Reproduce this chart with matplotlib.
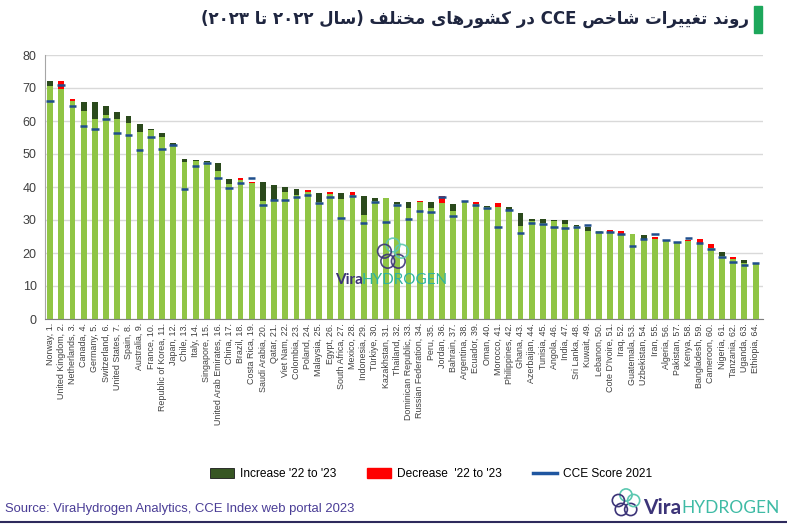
import matplotlib
matplotlib.use("Agg")
import matplotlib.pyplot as plt
from matplotlib import font_manager
from matplotlib.patches import Patch, Circle, Rectangle
from matplotlib.lines import Line2D
import numpy as np

countries = ["Norway", "United Kingdom", "Netherlands", "Canada", "Germany", "Switzerland",
             "United States", "Spain", "Australia", "France", "Republic of Korea", "Japan",
             "Chile", "Italy", "Singapore", "United Arab Emirates", "China", "Brazil",
             "Costa Rica", "Saudi Arabia", "Qatar", "Viet Nam", "Colombia", "Poland",
             "Malaysia", "Egypt", "South Africa", "Mexico", "Indonesia", "Türkiye",
             "Kazakhstan", "Thailand", "Dominican Republic", "Russian Federation", "Peru",
             "Jordan", "Bahrain", "Argentina", "Ecuador", "Oman", "Morocco", "Philippines",
             "Ghana", "Azerbaijan", "Tunisia", "Angola", "India", "Sri Lanka", "Kuwait",
             "Lebanon", "Cote D'Ivoire", "Iraq", "Guatemala", "Uzbekistan", "Iran",
             "Algeria", "Pakistan", "Kenya", "Bangladesh", "Cameroon", "Nigeria",
             "Tanzania", "Uganda", "Ethiopia"]

score_2021 = [66.2, 70.8, 64.6, 58.6, 57.7, 60.6, 56.4, 55.9, 51.1, 55.2, 51.4, 52.7,
              39.5, 46.5, 47.4, 42.6, 39.7, 41.2, 42.6, 34.4, 36.0, 36.2, 37.1, 37.6,
              35.2, 37.0, 30.6, 37.2, 29.1, 35.4, 29.5, 34.6, 30.4, 32.8, 32.4, 37.0,
              31.2, 35.7, 34.4, 33.6, 27.8, 32.9, 26.2, 29.2, 28.8, 27.8, 27.5, 27.9,
              28.6, 26.3, 26.4, 25.7, 22.0, 24.1, 25.9, 23.9, 23.4, 24.6, 23.0, 21.2,
              18.7, 17.4, 16.4, 16.9]

score_2022 = [70.5, 72.0, 66.7, 63.0, 60.7, 61.9, 60.5, 59.4, 56.7, 57.2, 55.2, 52.8,
              47.7, 47.9, 47.5, 44.7, 41.0, 42.7, 41.6, 35.8, 35.9, 38.4, 37.5, 39.2,
              35.4, 38.6, 36.5, 38.6, 31.6, 35.8, 36.7, 34.8, 33.6, 35.9, 33.7, 37.3,
              32.6, 35.9, 35.4, 34.0, 35.2, 33.1, 28.1, 29.6, 29.2, 29.6, 28.9, 28.2,
              26.6, 26.6, 26.9, 26.6, 25.9, 24.3, 25.0, 23.9, 23.4, 23.9, 24.1, 22.8,
              19.0, 18.9, 17.0, 17.0]

score_2023 = [72.0, 69.7, 66.0, 65.8, 65.8, 64.5, 62.8, 61.4, 59.1, 57.6, 56.5, 53.4,
              48.6, 48.2, 47.8, 47.4, 42.4, 42.0, 41.2, 41.4, 40.5, 40.1, 39.4, 38.6,
              38.3, 38.0, 38.1, 37.7, 37.4, 36.7, 36.7, 35.6, 35.4, 35.5, 35.4, 35.1,
              34.9, 35.5, 34.7, 34.2, 33.9, 33.9, 32.0, 30.3, 30.2, 29.9, 29.9, 28.4,
              27.8, 26.8, 26.4, 25.9, 25.9, 25.6, 24.2, 23.9, 23.4, 23.6, 23.0, 21.4,
              20.3, 18.1, 18.0, 17.0]

ranks = list(range(1, len(countries) + 1))
tick_labels = [f"{c}, {r}." for c, r in zip(countries, ranks)]

avail = {f.name for f in font_manager.fontManager.ttflist}
narrow = "Liberation Sans Narrow" if "Liberation Sans Narrow" in avail else "Liberation Sans"

LIGHT = "#90c545"
DARK = "#2b4a1c"
RED = "#ff0000"
BLUE = "#1f4e8c"

s21 = np.array(score_2021)
s22 = np.array(score_2022)
s23 = np.array(score_2023)
base = np.minimum(s22, s23)
inc = np.clip(s23 - s22, 0, None)
dec = np.clip(s22 - s23, 0, None)
x = np.arange(len(countries))

fig = plt.figure(figsize=(7.87, 5.24), dpi=100)
fig.patch.set_facecolor("white")
ax = fig.add_axes([45 / 787, 1 - 319 / 524, (763 - 45) / 787, (319 - 55) / 524])

bw = 0.52
ax.bar(x, base, width=bw, color=LIGHT, zorder=2)
ax.bar(x, inc, bottom=base, width=bw, color=DARK, zorder=3)
ax.bar(x, dec, bottom=base, width=bw, color=RED, zorder=3)
ax.hlines(s21, x - 0.34, x + 0.34, color=BLUE, lw=1.8, zorder=4)

ax.set_ylim(0, 80)
ax.set_xlim(-0.45, len(countries) - 1 + 0.66)
ax.set_yticks(range(0, 81, 10))
ax.yaxis.grid(True, color="#d9d9d9", lw=1)
ax.set_axisbelow(True)
for s in ["top", "right"]:
    ax.spines[s].set_visible(False)
ax.spines["left"].set_color("#a6a6a6")
ax.spines["bottom"].set_color("#7f7f7f")
ax.tick_params(axis="y", length=0, labelsize=9, labelcolor="#404040", pad=6)
ax.tick_params(axis="x", length=0, pad=3)
ax.set_xticks(x)
lab_size = 7.4 if narrow != "Liberation Sans" else 6.4
ax.set_xticklabels(tick_labels, rotation=90, fontsize=lab_size, color="#404040", family=narrow)
for lab in ax.get_yticklabels():
    lab.set_family("Liberation Sans")

# ---- Persian title (shaped manually) ----
FORMS = {
    '\u0627': ('\uFE8D', '\uFE8E', None, None),
    '\u062A': ('\uFE95', '\uFE96', '\uFE97', '\uFE98'),
    '\u062E': ('\uFEA5', '\uFEA6', '\uFEA7', '\uFEA8'),
    '\u062F': ('\uFEA9', '\uFEAA', None, None),
    '\u0631': ('\uFEAD', '\uFEAE', None, None),
    '\u0633': ('\uFEB1', '\uFEB2', '\uFEB3', '\uFEB4'),
    '\u0634': ('\uFEB5', '\uFEB6', '\uFEB7', '\uFEB8'),
    '\u0635': ('\uFEB9', '\uFEBA', '\uFEBB', '\uFEBC'),
    '\u063A': ('\uFECD', '\uFECE', '\uFECF', '\uFED0'),
    '\u0641': ('\uFED1', '\uFED2', '\uFED3', '\uFED4'),
    '\u0644': ('\uFEDD', '\uFEDE', '\uFEDF', '\uFEE0'),
    '\u0645': ('\uFEE1', '\uFEE2', '\uFEE3', '\uFEE4'),
    '\u0646': ('\uFEE5', '\uFEE6', '\uFEE7', '\uFEE8'),
    '\u0647': ('\uFEE9', '\uFEEA', '\uFEEB', '\uFEEC'),
    '\u0648': ('\uFEED', '\uFEEE', None, None),
    '\u06A9': ('\uFB8E', '\uFB8F', '\uFB90', '\uFB91'),
    '\u06CC': ('\uFBFC', '\uFBFD', '\uFBFE', '\uFBFF'),
}


def shape(w):
    out = []
    for i, ch in enumerate(w):
        f = FORMS.get(ch)
        if f is None:
            out.append(ch)
            continue
        prev = w[i - 1] if i > 0 else None
        nxt = w[i + 1] if i + 1 < len(w) else None
        jp = prev in FORMS and FORMS[prev][2] is not None
        jn = f[2] is not None and nxt in FORMS
        if jp and jn:
            out.append(f[3])
        elif jp:
            out.append(f[1])
        elif jn:
            out.append(f[2])
        else:
            out.append(f[0])
    return "".join(reversed(out))


title_vis = " ".join([
    "(" + "۲۰۲۳", shape("تا"), "۲۰۲۲", shape("سال") + ")", shape("مختلف"),
    shape("کشورهای"), shape("در"), "CCE", shape("شاخص"), shape("تغییرات"), shape("روند"),
])
fig.text(749 / 787, 1 - 19 / 524, title_vis, ha="right", va="center", fontsize=12,
         fontweight="bold", color="#1f2640", family=["DejaVu Sans"])
fig.add_artist(Rectangle((754 / 787, 1 - 33 / 524), 8 / 787, 27 / 524,
                         transform=fig.transFigure, color="#1da75b"))

# ---- legend ----
handles = [Patch(facecolor="#375623", edgecolor="#1a1a1a", lw=0.6),
           Patch(facecolor=RED, edgecolor=RED),
           Line2D([0], [0], color="#1f56a0", lw=2.5)]
labels = ["Increase '22 to '23", "Decrease  '22 to '23", "CCE Score 2021"]
fig.legend(handles, labels, loc="center", bbox_to_anchor=(431 / 787, 1 - 474 / 524),
           ncol=3, frameon=False, columnspacing=2.6, handlelength=2.0,
           handleheight=0.9, handletextpad=0.5, prop={"family": narrow, "size": 8.6})

# ---- source ----
fig.text(5 / 787, 1 - 509 / 524, "Source: ViraHydrogen Analytics, CCE Index web portal 2023",
         ha="left", va="center", fontsize=9.4, color="#4a3d96", family=narrow)
fig.add_artist(Line2D([0, 1], [1 - 522 / 524, 1 - 522 / 524], transform=fig.transFigure,
                      color="#2e2a5c", lw=1.5))


def logo(cx, cy, size, alpha=1.0):
    lax = fig.add_axes([(cx - size / 2) / 787, 1 - (cy + size / 2) / 524, size / 787, size / 524])
    lax.set_xlim(-1, 1)
    lax.set_ylim(-1, 1)
    lax.axis("off")
    ang = np.deg2rad(90 + 72 * np.arange(5))
    cols = ["#5bc8b0", "#3c3478", "#3c3478", "#3c3478", "#5bc8b0"]
    for a, c in zip(ang, cols):
        lax.add_patch(Circle((0.5 * np.cos(a), 0.5 * np.sin(a)), 0.38, fill=False,
                             ec=c, lw=1.2, alpha=alpha))


# watermark
logo(393, 254, 36, alpha=0.9)
fig.text(335 / 787, 1 - 280 / 524, "Vira", ha="left", va="center", fontsize=11,
         fontweight="bold", color="#3c3478", family="Lato", zorder=10)
fig.text(362 / 787, 1 - 280 / 524, "HYDROGEN", ha="left", va="center", fontsize=11,
         color="#2fb3a0", family="Lato", zorder=10)

# bottom-right logo
logo(626, 503, 32)
fig.text(643 / 787, 1 - 508 / 524, "Vira", ha="left", va="center", fontsize=15,
         fontweight="bold", color="#3c3478", family="Lato")
fig.text(681 / 787, 1 - 508 / 524, "HYDROGEN", ha="left", va="center", fontsize=12.5,
         color="#3fbba5", family="Lato")

fig.savefig("out.png", dpi=100)
